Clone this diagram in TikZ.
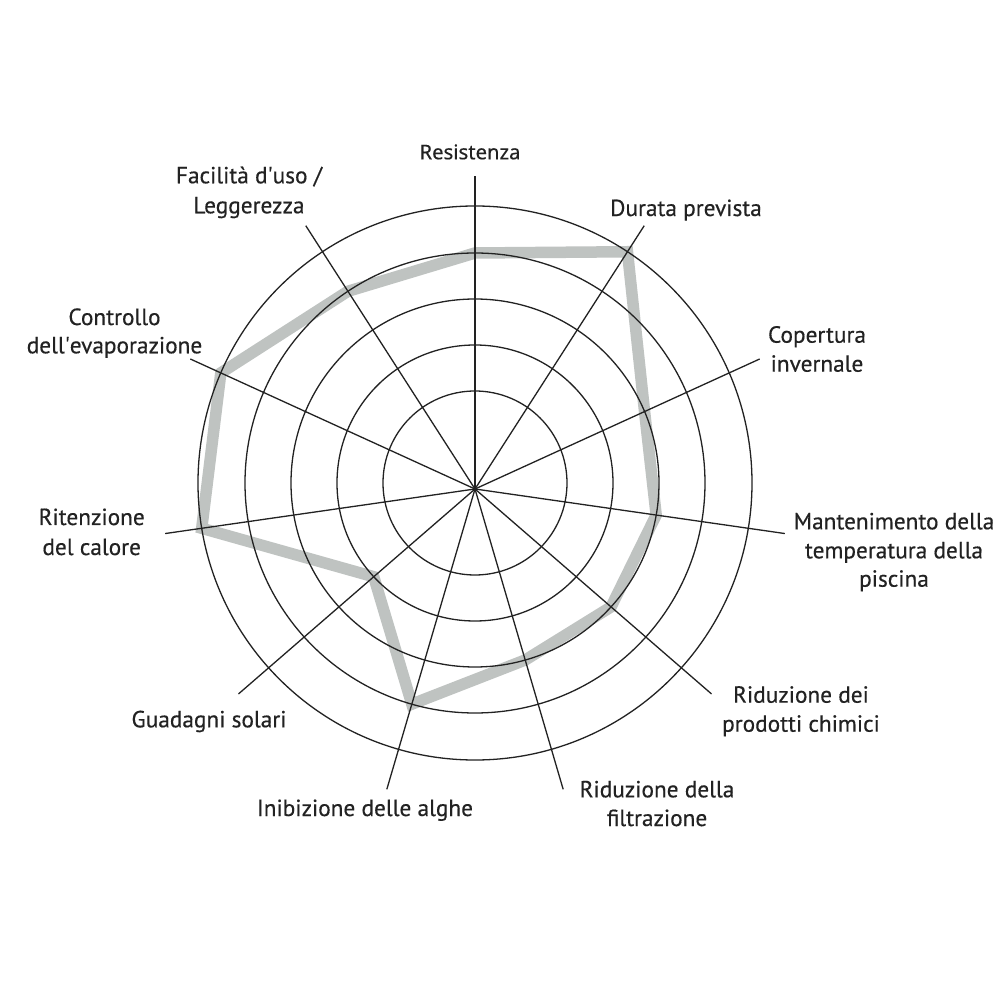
\documentclass[tikz,border=0pt]{standalone}
\usepackage{fontspec}
\setmainfont{PT Sans}[FakeBold=0.4]
\newfontfamily\resfont{Noto Sans}[FakeBold=0.35]
\definecolor{ink}{RGB}{34,34,34}
\definecolor{band}{RGB}{191,195,193}
\begin{document}
\begin{tikzpicture}[x=1pt,y=1pt,
  grid/.style={draw=ink,line width=1.3pt},
  bandline/.style={draw=band,line width=11.5pt,line join=miter},
  lab/.style={text=ink,font=\fontsize{23.3}{29}\selectfont,anchor=base,inner sep=0pt},
  reslab/.style={text=ink,font=\resfont\fontsize{20.3}{24}\selectfont,anchor=base,inner sep=0pt}]
\useasboundingbox (-475,-511) rectangle (525,489);
\fill[white] (-475,-511) rectangle (525,489);
\coordinate (O) at (0,0);
\coordinate (C) at (0,6);
% data polygon
\foreach \k/\r in {0/230,1/277,2/184,3/184,4/184,5/184,6/230,7/138,8/277,9/277,10/230}{
  \pgfmathsetmacro\a{90-\k*360/11}
  \pgfmathsetmacro\t{6*sin(\a)+10*sqrt((\r/10)*(\r/10)-0.36*cos(\a)*cos(\a))}
  \coordinate (p\k) at (\a:\t);
}
\draw[bandline] (p0) -- (p1) -- (p2) -- (p3) -- (p4) -- (p5) -- (p6) -- (p7) -- (p8) -- (p9) -- (p10) -- cycle;
% grid
\foreach \r in {92,138,184,230,277} \draw[grid] (C) circle (\r);
\foreach \k in {0,...,10} \draw[grid] (O) -- ({90-\k*360/11}:313) coordinate (s\k);
% labels
\node[reslab] (l0) at (-5,329.7) {Resistenza};
\node[lab] (l1) at (211,273) {Durata prevista};
\node[lab] (l2a) at (342,146.3) {Copertura};
\node[lab] (l2b) at (342,117.3) {invernale};
\node[lab] (l3a) at (419,-40.3) {Mantenimento della};
\node[lab] (l3b) at (419,-69.3) {temperatura della};
\node[lab] (l3c) at (419,-97.7) {piscina};
\node[lab] (l4a) at (326,-213.7) {Riduzione dei};
\node[lab] (l4b) at (326,-242.7) {prodotti chimici};
\node[lab] (l5a) at (182,-308.3) {Riduzione della};
\node[lab] (l5b) at (182,-337) {filtrazione};
\node[lab] (l6) at (-110,-327) {Inibizione delle alghe};
\node[lab] (l7) at (-266,-238.3) {Guadagni solari};
\node[lab] (l8a) at (-383.3,-36) {Ritenzione};
\node[lab] (l8b) at (-383.3,-66) {del calore};
\node[lab] (l9a) at (-360.5,164) {Controllo};
\node[lab] (l9b) at (-360.5,135.7) {dell\textquotesingle evaporazione};
\node[lab] (l10a) at (-226,305.7) {Facilità d\textquotesingle uso /};
\node[lab] (l10b) at (-226,275.7) {Leggerezza};
\end{tikzpicture}
\end{document}
